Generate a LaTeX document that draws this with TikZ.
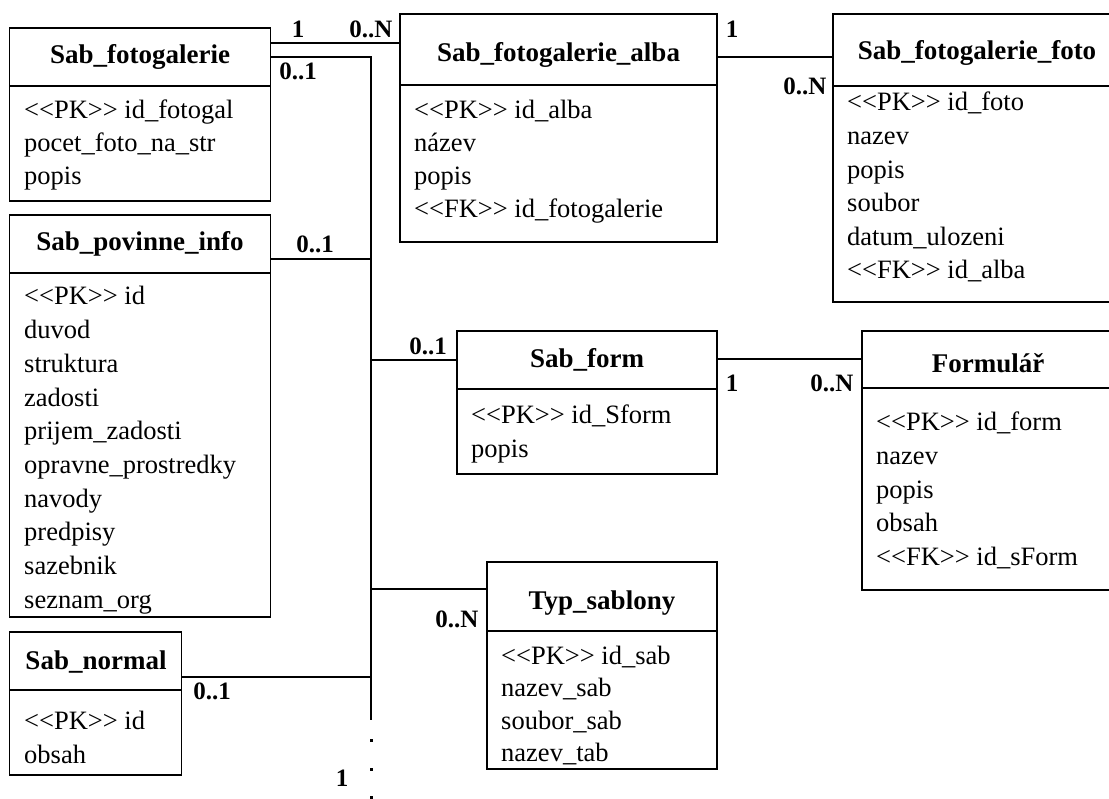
\documentclass[tikz,border=0pt]{standalone}
\usepackage{fontspec}
\setmainfont{Liberation Serif}
\newcommand\PKt{<\kern0pt<PK>\kern0pt>}
\newcommand\FKt{<\kern0pt<FK>\kern0pt>}
\tikzset{
  box/.style={draw, line width=1.3pt, outer sep=0pt, inner sep=0pt, anchor=north west},
  divline/.style={line width=1.3pt},
  ttl/.style={font=\fontsize{27}{32}\selectfont\bfseries, inner sep=0pt, anchor=base},
  row/.style={font=\fontsize{26.5}{32}\selectfont, inner sep=0pt, anchor=base west},
  card/.style={font=\fontsize{25}{30}\selectfont\bfseries, inner sep=0pt, anchor=base},
  conn/.style={line width=1.3pt},
  dot/.style={fill, minimum size=3pt, inner sep=0pt, outer sep=0pt},
}
\newcommand\tablerows[5]{% name, x, first baseline, step, list
  \foreach \t [count=\i] in {#5} {
    \node[row] (#1-\i) at (#2, {#3+#4*(\i-1)}) {\t};
  }
}
\begin{document}
\begin{tikzpicture}[x=1pt, y=-1pt]
\useasboundingbox (0,0) rectangle (1109,799);
\clip (0,0) rectangle (1109,799);

% Sab_fotogalerie
\node[box, minimum width=261pt, minimum height=173pt] (fg) at (9.5,28) {};
\draw[divline] (9.5,86) -- (270.5,86);
\node[ttl] (fg-t) at (140,64) {Sab\_fotogalerie};
\tablerows{fg}{24}{119}{33}{\PKt{} id\_fotogal, pocet\_foto\_na\_str, popis}

% Sab_povinne_info
\node[box, minimum width=261pt, minimum height=402pt] (pi) at (9.5,215) {};
\draw[divline] (9.5,273) -- (270.5,273);
\node[ttl] (pi-t) at (140,251) {Sab\_povinne\_info};
\tablerows{pi}{24}{305}{33.7}{\PKt{} id, duvod, struktura, zadosti, prijem\_zadosti, opravne\_prostredky, navody, predpisy, sazebnik, seznam\_org}

% Sab_normal
\node[box, minimum width=172pt, minimum height=143pt] (sn) at (9.5,632) {};
\draw[divline] (9.5,690) -- (181.5,690);
\node[ttl] (sn-t) at (96,669) {Sab\_normal};
\tablerows{sn}{24}{729}{34}{\PKt{} id, obsah}

% Sab_fotogalerie_alba
\node[box, minimum width=317pt, minimum height=228pt] (al) at (400,14) {};
\draw[divline] (400,85) -- (717,85);
\node[ttl] (al-t) at (558.5,62) {Sab\_fotogalerie\_alba};
\tablerows{al}{414}{119}{33}{\PKt{} id\_alba, název, popis, \FKt{} id\_fotogalerie}

% Sab_fotogalerie_foto
\node[box, minimum width=290pt, minimum height=288pt] (ft) at (833,14) {};
\draw[divline] (833,86) -- (1123,86);
\node[ttl] (ft-t) at (977,60) {Sab\_fotogalerie\_foto};
\tablerows{ft}{847}{111}{33.6}{\PKt{} id\_foto, nazev, popis, soubor, datum\_ulozeni, \FKt{} id\_alba}

% Sab_form
\node[box, minimum width=260pt, minimum height=143pt] (sf) at (457,331) {};
\draw[divline] (457,389) -- (717,389);
\node[ttl] (sf-t) at (587,368) {Sab\_form};
\tablerows{sf}{471}{424}{33}{\PKt{} id\_Sform, popis}

% Formular
\node[box, minimum width=260pt, minimum height=259pt] (fo) at (862,331) {};
\draw[divline] (862,388) -- (1122,388);
\node[ttl] (fo-t) at (988,373) {Formulář};
\tablerows{fo}{876}{431}{33.5}{\PKt{} id\_form, nazev, popis, obsah, \FKt{} id\_sForm}

% Typ_sablony
\node[box, minimum width=230pt, minimum height=207pt] (ts) at (487,562) {};
\draw[divline] (487,631) -- (717,631);
\node[ttl] (ts-t) at (602,609) {Typ\_sablony};
\tablerows{ts}{501}{664}{32.5}{\PKt{} id\_sab, nazev\_sab, soubor\_sab, nazev\_tab}

% junction coordinates on the vertical bus
\coordinate (jtop) at (371,57);
\coordinate (jbot) at (371,720);
\node[dot] (d1) at (371,740) {};
\node[dot] (d2) at (371,769) {};
\node[dot] (d3) at (371,797) {};

% connectors
\draw[conn] (fg.east |- 0,43) -- (al.west |- 0,43);
\draw[conn] (fg.east |- jtop) -- (jtop) -- (jbot);
\draw[conn] (pi.east |- 0,259) -- (jtop |- 0,259);
\draw[conn] (jtop |- 0,360) -- (sf.west |- 0,360);
\draw[conn] (jtop |- 0,589) -- (ts.west |- 0,589);
\draw[conn] (sn.east |- 0,677) -- (jtop |- 0,677);
\draw[conn] (al.east |- 0,57) -- (ft.west |- 0,57);
\draw[conn] (sf.east |- 0,359) -- (fo.west |- 0,359);

% cardinalities
\node[card] (c1) at (298,38) {1};
\node[card] (c2) at (371,38) {0..N};
\node[card] (c3) at (298,80) {0..1};
\node[card] (c4) at (732,38) {1};
\node[card] (c5) at (805,95) {0..N};
\node[card] (c6) at (315,253) {0..1};
\node[card] (c7) at (428,355) {0..1};
\node[card] (c8) at (732,392) {1};
\node[card] (c9) at (832,392) {0..N};
\node[card] (c10) at (457,627) {0..N};
\node[card] (c11) at (212,699) {0..1};
\node[card] (c12) at (342,786) {1};
\end{tikzpicture}
\end{document}
